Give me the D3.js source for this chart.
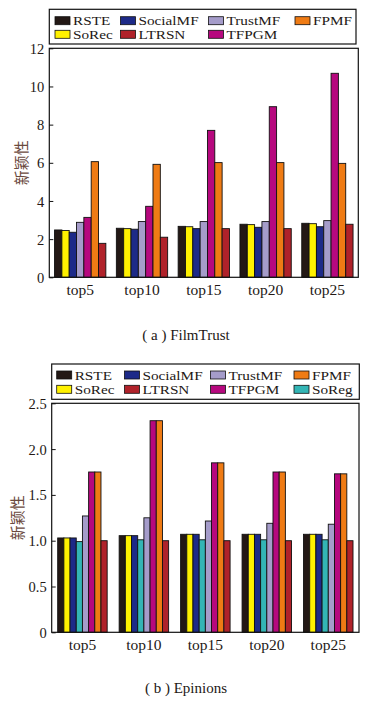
<!DOCTYPE html>
<html>
<head>
<meta charset="utf-8">
<script src="https://cdn.jsdelivr.net/npm/d3@7"></script>
<style>
  body { margin: 0; background: #fff; }
</style>
</head>
<body>
<svg id="chart" width="371" height="703"></svg>
<script>
const SERIF = "'Liberation Serif', 'DejaVu Serif', serif";

// categories on the x axis
const categories = ["top5", "top10", "top15", "top20", "top25"];

// (a) FilmTrust
const filmRSTE     = [2.48, 2.57, 2.67, 2.78, 2.83];
const filmSoRec    = [2.45, 2.55, 2.65, 2.76, 2.81];
const filmSocialMF = [2.36, 2.52, 2.55, 2.62, 2.65];
const filmTrustMF  = [2.88, 2.92, 2.92, 2.92, 2.97];
const filmTFPGM    = [3.14, 3.72, 7.70, 8.94, 10.69];
const filmFPMF     = [6.06, 5.92, 6.01, 6.01, 5.97];
const filmLTRSN    = [1.78, 2.10, 2.55, 2.55, 2.78];
const filmTicks    = ["0", "2", "4", "6", "8", "10", "12"];

// (b) Epinions
const epRSTE     = [1.03, 1.055, 1.07, 1.07, 1.07];
const epSoRec    = [1.03, 1.055, 1.07, 1.07, 1.07];
const epSocialMF = [1.03, 1.055, 1.07, 1.07, 1.07];
const epSoReg    = [0.99, 1.01, 1.01, 1.01, 1.01];
const epTrustMF  = [1.27, 1.25, 1.215, 1.19, 1.18];
const epTFPGM    = [1.75, 2.31, 1.85, 1.75, 1.73];
const epFPMF     = [1.75, 2.31, 1.85, 1.75, 1.73];
const epLTRSN    = [1.00, 1.00, 1.00, 1.00, 1.00];
const epTicks    = ["0", "0.5", "1.0", "1.5", "2.0", "2.5"];

const colors = {
  RSTE: "#231815", SoRec: "#fff100", SocialMF: "#1d2a88", TrustMF: "#a59cca",
  TFPGM: "#b6087e", FPMF: "#ef7b14", LTRSN: "#b0222a", SoReg: "#33b5b5"
};

const svg = d3.select("#chart");

function drawPanel(p) {
  const g = svg.append("g");
  const x = d3.scaleBand().domain(categories).range([p.left, p.right])
    .paddingInner(p.pad).paddingOuter(p.pad / 2);
  const xs = d3.scaleBand().domain(p.series.map(s => s.name)).range([0, x.bandwidth()]);
  const y = d3.scaleLinear().domain([0, p.max]).range([p.bottom, p.top]);

  // bars
  p.series.forEach(s => {
    g.append("g").selectAll("rect")
      .data(s.values).enter()
      .append("rect")
      .attr("x", (d, i) => x(categories[i]) + xs(s.name))
      .attr("y", d => y(d))
      .attr("width", xs.bandwidth())
      .attr("height", d => y(0) - y(d))
      .attr("fill", colors[s.name])
      .attr("stroke", "#111")
      .attr("stroke-width", 0.9);
  });

  // y axis with inner ticks
  const yAxis = d3.axisRight(y).tickValues(p.ticks.map(Number)).tickSize(4)
    .tickFormat((d, i) => p.ticks[i]);
  const ya = g.append("g").attr("transform", "translate(" + p.left + ",0)").call(yAxis);
  ya.select(".domain").remove();
  ya.selectAll("line").attr("stroke", "#111");
  ya.selectAll("text").attr("x", -5).attr("text-anchor", "end").attr("dy", "0.35em")
    .style("font-family", SERIF).style("font-size", "14.5px").style("fill", "#231815");

  // x labels
  const xa = g.append("g").attr("transform", "translate(0," + p.bottom + ")")
    .call(d3.axisBottom(x).tickSize(0).tickPadding(5));
  xa.select(".domain").remove();
  xa.selectAll("text").attr("dy", "0.8em")
    .style("font-family", SERIF).style("font-size", "15.5px").style("fill", "#231815");

  // frame
  g.append("rect").attr("x", p.left).attr("y", p.top)
    .attr("width", p.right - p.left).attr("height", p.bottom - p.top)
    .attr("fill", "none").attr("stroke", "#111").attr("stroke-width", 1.2);

  // y title
  g.append("text")
    .attr("transform", "translate(" + p.titleX + "," + ((p.top + p.bottom) / 2) + ") rotate(-90)")
    .attr("text-anchor", "middle").attr("dy", "0.35em")
    .style("font-family", "'Noto Sans CJK SC', sans-serif").style("font-size", "15px")
    .style("fill", "#6b4a3e")
    .text("新颖性");

  // legend
  const lg = g.append("g");
  lg.append("rect").attr("x", p.legend.x0).attr("y", p.legend.y0)
    .attr("width", p.legend.x1 - p.legend.x0).attr("height", p.legend.y1 - p.legend.y0)
    .attr("fill", "#fff").attr("stroke", "#111").attr("stroke-width", 1.2);
  p.legend.items.forEach((name, i) => {
    const col = i % 4, row = Math.floor(i / 4);
    const cx = p.legend.cols[col], cy = p.legend.rows[row];
    lg.append("rect").attr("x", cx).attr("y", cy - 4).attr("width", 15).attr("height", 8)
      .attr("fill", colors[name]).attr("stroke", "#111").attr("stroke-width", 0.8);
    lg.append("text")
      .attr("transform", "translate(" + (cx + 18) + "," + cy + ") scale(1.13,1)")
      .attr("dy", "0.35em")
      .style("font-family", SERIF).style("font-size", "13.5px").style("fill", "#231815")
      .text(name);
  });

  // caption
  svg.append("text").attr("x", 186).attr("y", p.captionY).attr("text-anchor", "middle")
    .style("font-family", SERIF).style("font-size", "15px").style("fill", "#231815")
    .text(p.caption);
}

drawPanel({
  left: 49.3, right: 358.3, top: 48.3, bottom: 277.3, max: 12, pad: 0.17, titleX: 21.5,
  ticks: filmTicks,
  series: [
    { name: "RSTE", values: filmRSTE }, { name: "SoRec", values: filmSoRec },
    { name: "SocialMF", values: filmSocialMF }, { name: "TrustMF", values: filmTrustMF },
    { name: "TFPGM", values: filmTFPGM }, { name: "FPMF", values: filmFPMF },
    { name: "LTRSN", values: filmLTRSN }
  ],
  legend: { x0: 49.3, x1: 356, y0: 9.3, y1: 44, cols: [55, 120.5, 208.5, 295], rows: [20.7, 34.3],
    items: ["RSTE", "SocialMF", "TrustMF", "FPMF", "SoRec", "LTRSN", "TFPGM"] },
  caption: "( a ) FilmTrust", captionY: 340
});

drawPanel({
  left: 51.7, right: 359, top: 403.3, bottom: 632.3, max: 2.5, pad: 0.195, titleX: 18,
  ticks: epTicks,
  series: [
    { name: "RSTE", values: epRSTE }, { name: "SoRec", values: epSoRec },
    { name: "SocialMF", values: epSocialMF }, { name: "SoReg", values: epSoReg },
    { name: "TrustMF", values: epTrustMF }, { name: "TFPGM", values: epTFPGM },
    { name: "FPMF", values: epFPMF }, { name: "LTRSN", values: epLTRSN }
  ],
  legend: { x0: 51.7, x1: 359.3, y0: 364, y1: 399.3, cols: [56.7, 124.5, 210.5, 294], rows: [375, 389.3],
    items: ["RSTE", "SocialMF", "TrustMF", "FPMF", "SoRec", "LTRSN", "TFPGM", "SoReg"] },
  caption: "( b ) Epinions", captionY: 693
});
</script>
</body>
</html>
